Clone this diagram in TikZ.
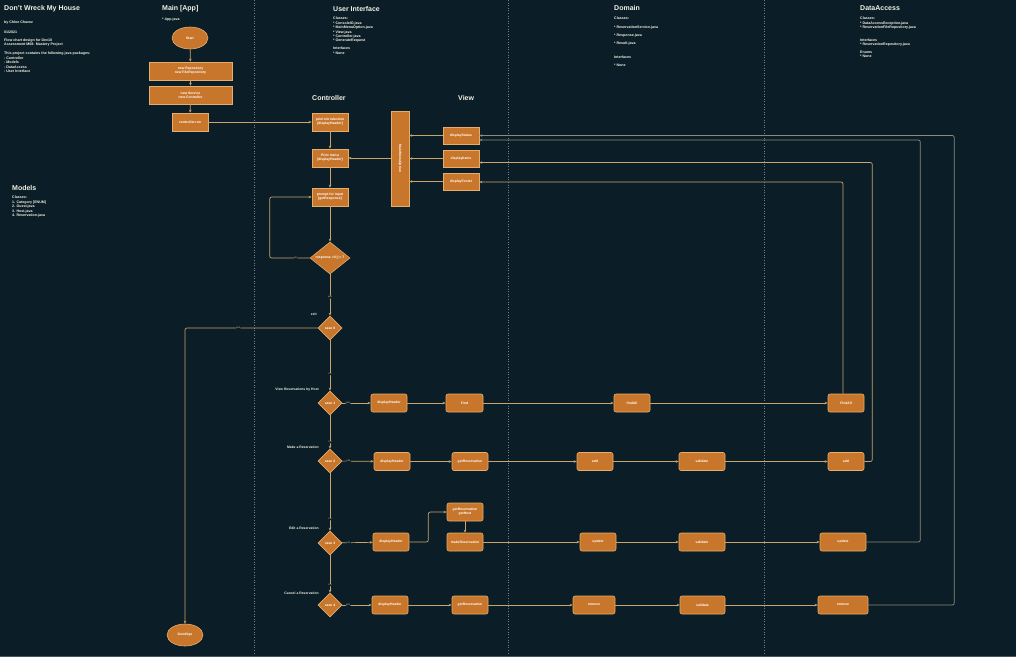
\documentclass[tikz,border=0pt]{standalone}
\usepackage{fontspec}
\setmainfont{Liberation Sans}
\usetikzlibrary{shapes.geometric,arrows.meta}
\definecolor{bg}{HTML}{0B1D26}
\definecolor{boxfill}{HTML}{C8762B}
\definecolor{boxline}{HTML}{E3AE6E}
\definecolor{arrowc}{HTML}{C9A46C}
\definecolor{grayline}{HTML}{8E8C78}
\definecolor{sepc}{HTML}{6E7E84}
\definecolor{titlec}{HTML}{F2F2E4}
\definecolor{labc}{HTML}{C8D0A0}
\tikzset{
  box/.style={draw=boxline, fill=boxfill, line width=0.6pt, text=white,
    font=\fontsize{3.4}{4.2}\selectfont\bfseries, align=center, inner sep=0pt,
    minimum width=36pt, minimum height=18pt},
  rbox/.style={box, rounded corners=2pt},
  dia/.style={diamond, draw=boxline, fill=boxfill, line width=0.6pt, text=white,
    font=\fontsize{3.4}{4.2}\selectfont\bfseries, inner sep=0pt,
    minimum width=24pt, minimum height=24pt},
  ell/.style={ellipse, draw=boxline, fill=boxfill, line width=0.6pt, text=white,
    font=\fontsize{3.4}{4.2}\selectfont\bfseries, inner sep=0pt,
    minimum width=36pt, minimum height=22pt},
  arr/.style={draw=arrowc, line width=0.7pt, rounded corners=2pt,
    -{Stealth[length=3pt,width=2.5pt]}},
  garr/.style={arr, draw=grayline},
  title/.style={anchor=west, text=titlec, font=\fontsize{7}{8}\selectfont\bfseries, inner sep=0pt},
  small/.style={anchor=north west, text=titlec, font=\fontsize{3.6}{4.4}\selectfont\bfseries, align=left, inner sep=0pt},
  side/.style={anchor=east, text=titlec, font=\fontsize{3.4}{4}\selectfont\bfseries, inner sep=0pt},
  lab/.style={text=labc, font=\fontsize{2.6}{3}\selectfont, fill=bg, inner sep=0.5pt},
  sep/.style={draw=sepc, line width=0.6pt, dotted},
}
\begin{document}
\begin{tikzpicture}[x=1pt,y=-1pt]
\useasboundingbox[fill=bg] (0,0) rectangle (1016,657);
\draw[draw=sepc!60!bg, line width=1pt] (0,656) -- (1016,656);
% separators
\draw[sep] (254,0) -- (254,654);
\draw[sep] (508,0) -- (508,654);
\draw[sep] (764,0) -- (764,654);

% left column texts
\node[title] (t1) at (4,9) {Don't Wreck My House};
\node[small] (i1) at (4,21) {by Chloe Chavez};
\node[small] (i2) at (4,31) {01/2021};
\node[small] (i3) at (4,38.5) {Flow chart design for Dev10\\Assessment M08: Mastery Project};
\node[small] (i4) at (4,52) {This project contains the following java packages:\\- Controller\\- Models\\- DataAccess\\- User Interface};
\node[title] (t2) at (12,188) {Models};
\node[small] (m1) at (12,196) {Classes:\\1. Category [ENUM]\\2. Guest.java\\3. Host.java\\4. Reservation.java};

% Main
\node[title] (t3) at (162,9) {Main [App]};
\node[small] (a1) at (162,18) {* App.java};
\node[ell] (start) at (190,38) {Start};
\node[box, minimum width=83pt] (repo) at (190.5,71) {new Repository\\new FileRepository};
\node[box, minimum width=83pt] (svc) at (190.5,95) {new Service\\new Controller};
\node[box] (run) at (190,122) {controller.run};
\node[ell] (exit) at (185,635) {Goodbye};

% User interface
\node[title] (t4) at (333,9) {User Interface};
\node[small] (u1t) at (333,17) {Classes:\\* ConsoleIO.java\\* MainMenuOption.java\\* View.java\\* Controller.java\\* GenerateRequest};
\node[small] (u2t) at (333,47) {Interfaces\\* None};
\node[title] (t5) at (312,97.5) {Controller};
\node[title] (t6) at (458,97.5) {View};

% Domain
\node[title] (t7) at (614,7.5) {Domain};
\node[small] (d1) at (614,16.5) {Classes:};
\node[small] (d2) at (614,25.5) {* ReservationService.java};
\node[small] (d3) at (614,33.5) {* Response.java};
\node[small] (d4) at (614,41.5) {* Result.java};
\node[small] (d5) at (614,56) {Interfaces};
\node[small] (d6) at (614,64) {* None};

% DataAccess
\node[title] (t8) at (860,8) {DataAccess};
\node[small] (e1) at (860,17) {Classes:\\* DataAccessException.java\\* ReservationFileRepository.java};
\node[small] (e2) at (860,38.5) {Interfaces\\* ReservationRepository.java};
\node[small] (e3) at (860,50.5) {Enums\\* None};

% Controller column
\node[box] (intro) at (330,122) {print introduction\\{[displayHeader]}};
\node[box] (menu) at (330,158) {Print menu\\{[displayHeader]}};
\node[box] (prompt) at (330,197) {prompt for input\\{[getResponse]}};
\node[dia, minimum width=40pt, minimum height=32pt] (resp) at (330,258) {response >0 || < 7};

% View column
\node[box, minimum width=18pt, minimum height=95pt] (vmain) at (400,158.5) {};
\node[text=white, font=\fontsize{3.4}{4}\selectfont\bfseries, rotate=-90, inner sep=0pt] (vtxt) at (vmain.center) {MainMenuOption};
\node[box, minimum height=17pt] (dstatus) at (461,135.5) {displayStatus};
\node[box, minimum height=17pt] (ditems) at (461,158.5) {displayItems};
\node[box, minimum height=17pt] (dfooter) at (461,181.5) {displayFooter};

% cases
\node[dia] (c0) at (330,328) {case 0};
\node[dia] (c1) at (330,403) {case 1};
\node[dia] (c2) at (330,461) {case 2};
\node[dia] (c3) at (330,543) {case 3};
\node[dia] (c4) at (330,605) {case 4};
\node[side] (s0) at (317,314) {exit};
\node[side] (s1) at (319,390) {View Reservations by Host};
\node[side] (s2) at (319,447) {Make a Reservation};
\node[side] (s3) at (319,528) {Edit a Reservation};
\node[side] (s4) at (319,593) {Cancel a Reservation};

% row 1
\node[rbox] (h1) at (389,403) {displayHeader};
\node[rbox, minimum width=37pt] (p1) at (464.5,403) {Find};
\node[rbox] (f1) at (632,403) {findAll};
\node[rbox] (f2) at (846,403) {FindAll};
% row 2
\node[rbox] (h2) at (392,461.5) {displayHeader};
\node[rbox] (g2) at (470,461.5) {getReservation};
\node[rbox] (a2) at (595,461.5) {add};
\node[rbox, minimum width=46pt] (v2) at (702,461.5) {validate};
\node[rbox] (a3) at (846,461.5) {add};
% row 3
\node[rbox] (h3) at (391,542) {displayHeader};
\node[rbox] (gh) at (465,512) {getReservation\\getHost};
\node[rbox] (mk) at (465,542) {makeReservation};
\node[rbox] (up1) at (598,542) {update};
\node[rbox, minimum width=46pt] (v3) at (702,542) {validate};
\node[rbox, minimum width=46pt] (up2) at (843,542) {update};
% row 4
\node[rbox] (h4) at (390,605) {displayHeader};
\node[rbox] (g4) at (470,605) {getReservation};
\node[rbox, minimum width=42pt] (r1) at (594,605) {remove};
\node[rbox, minimum width=45pt] (v4) at (702.5,605) {validate};
\node[rbox, minimum width=50pt] (r2) at (843,605) {remove};

% main flow
\draw[arr] (start) -- (repo);
\draw[arr] (repo) -- (svc);
\draw[arr] (svc) -- (run);
\draw[arr] (run) -- (intro);
\draw[arr] (intro) -- (menu);
\draw[arr] (menu) -- (prompt);
\draw[arr] (prompt) -- (resp);
\draw[arr] (resp.west) -- node[lab, pos=0.35]{no} ++(-40,0) |- (prompt.west);
\draw[arr] (vmain.west |- menu.east) -- (menu.east);
\draw[arr] (dstatus.west) -- (dstatus.west -| vmain.east);
\draw[arr] (ditems.west) -- (ditems.west -| vmain.east);
\draw[arr] (dfooter.west) -- (dfooter.west -| vmain.east);

\draw[arr] (resp) -- node[lab, pos=0.55]{yes} (c0);
\draw[arr] (c0.west) -| node[lab, pos=0.3]{yes} (exit.north);
\draw[arr] (c0) -- node[lab, pos=0.67]{no} (c1);
\draw[arr] (c1) -- node[lab, pos=0.8]{no} (c2);
\draw[arr] (c2) -- node[lab, pos=0.8]{no} (c3);
\draw[arr] (c3) -- node[lab, pos=0.8]{no} (c4);

% row connectors
\draw[arr] (c1) -- node[lab, pos=0.2]{yes} (h1);
\draw[arr] (h1) -- (p1);
\draw[arr] (p1) -- (f1);
\draw[arr] (f1) -- (f2);
\draw[arr] ([xshift=-3pt]f2.north) |- ([yshift=-0.5pt]dfooter.east);

\draw[arr] (c2) -- node[lab, pos=0.2]{yes} (h2);
\draw[arr] (h2) -- (g2);
\draw[arr] (g2) -- (a2);
\draw[arr] (a2) -- (v2);
\draw[arr] (v2) -- (a3);
\draw[arr] (a3.east) -- ++(8,0) |- ([yshift=-4pt]ditems.east);

\draw[arr] (c3) -- node[lab, pos=0.2]{yes} (h3);
\draw[arr] (h3.east) -- ++(19,0) |- (gh.west);
\draw[arr] (gh) -- (mk);
\draw[arr] (mk) -- (up1);
\draw[arr] (up1) -- (v3);
\draw[arr] (v3) -- (up2);
\draw[garr] (up2.east) -- ++(54,0) |- ([yshift=-4.5pt]dstatus.east);

\draw[arr] (c4) -- node[lab, pos=0.2]{yes} (h4);
\draw[arr] (h4) -- (g4);
\draw[arr] (g4) -- (r1);
\draw[arr] (r1) -- (v4);
\draw[arr] (v4) -- (r2);
\draw[garr] (r2.east) -- ++(86,0) |- (dstatus.east);
\end{tikzpicture}
\end{document}
